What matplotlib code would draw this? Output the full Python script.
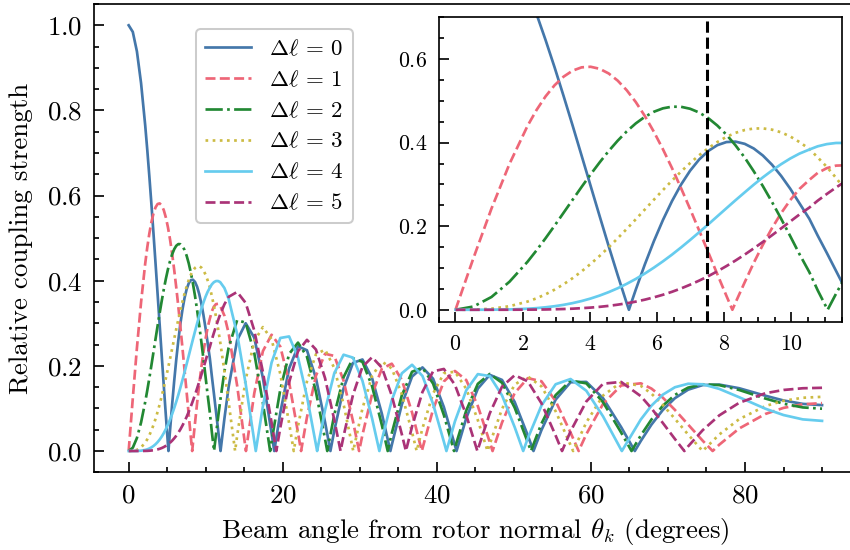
import numpy as np
import matplotlib
matplotlib.use('Agg')
import matplotlib.pyplot as plt
from matplotlib.ticker import MultipleLocator

plt.rcParams['font.family'] = 'serif'
plt.rcParams['font.serif'] = ['cmr10']
plt.rcParams['mathtext.fontset'] = 'cm'
plt.rcParams['axes.formatter.use_mathtext'] = True
plt.rcParams['font.size'] = 8
plt.rcParams['axes.linewidth'] = 0.5

# beam angle samples (degrees); the last row holds extra samples for the zoomed range
theta = np.array([
    0, 0.536, 1.072, 1.608, 2.145, 2.681, 3.218, 3.755, 4.293, 4.830, 5.369, 5.907,
    6.447, 6.986, 7.527, 8.068, 8.613, 9.152, 9.696, 10.241, 10.785, 11.331, 11.879,
    12.427, 12.976,
    14.079, 15.187, 16.301, 17.422, 18.549, 19.684, 20.826, 21.978, 23.139, 24.310,
    25.492, 26.686, 27.893, 29.113, 30.347, 31.598, 32.865, 34.151, 35.457, 36.784,
    38.135, 39.511, 40.915, 42.350, 43.818, 45.323, 46.869, 48.461, 50.105, 51.807,
    53.576, 55.422, 57.359, 59.404, 61.581, 63.923, 66.479,
    67.861, 69.330, 70.906, 72.619, 74.514, 76.669, 79.238, 82.643,
    85.0, 87.5, 90.0,
    2.413, 2.950, 3.487, 4.024, 4.561, 5.099, 5.638, 6.177, 6.716, 7.256, 7.797,
    8.339, 8.881, 9.424, 9.968, 10.537, 11.058, 11.606])

# relative coupling strength for each delta-l
dl0 = [1.0000, 0.9844, 0.9385, 0.8642, 0.7652, 0.6459, 0.5118, 0.3690, 0.2239, 0.0828, 0.0484, 0.1641,
       0.2601, 0.3328, 0.3801, 0.4014, 0.3971, 0.3692, 0.3205, 0.2551, 0.1776, 0.0931, 0.0068,
       0.0760, 0.1507,
       0.2601, 0.3001, 0.2663, 0.1717, 0.0419, 0.0903, 0.1939, 0.2459, 0.2367, 0.1712,
       0.0677, 0.0477, 0.1469, 0.2069, 0.2150, 0.1711, 0.0876, 0.0142, 0.1092, 0.1749,
       0.1964, 0.1699, 0.1031, 0.0134, 0.0772, 0.1466, 0.1789, 0.1670, 0.1151, 0.0366,
       0.0489, 0.1207, 0.1615, 0.1624, 0.1239, 0.0562, 0.0237,
       0.0621, 0.0963, 0.1241, 0.1441, 0.1549, 0.1560, 0.1475, 0.1299,
       0.1187, 0.1107, 0.1078,
       0.7078, 0.5804, 0.4411, 0.2964, 0.1524, 0.0156, 0.1085, 0.2148, 0.2995, 0.3597, 0.3940,
       0.4024, 0.3860, 0.3472, 0.2897, 0.2176, 0.1359, 0.0499]
dl1 = [0.0, 0.1240, 0.2423, 0.3492, 0.4401, 0.5106, 0.5579, 0.5802, 0.5767, 0.5484, 0.4971, 0.4260,
       0.3391, 0.2411, 0.1374, 0.0332, 0.0660, 0.1555, 0.2311, 0.2891, 0.3276, 0.3450, 0.3414,
       0.3179, 0.2767,
       0.1538, 0.0047, 0.1353, 0.2346, 0.2731, 0.2453, 0.1613, 0.0435, 0.0789, 0.1768,
       0.2284, 0.2234, 0.1655, 0.0703, 0.0381, 0.1334, 0.1934, 0.2051, 0.1672, 0.0904,
       0.0058, 0.0977, 0.1634, 0.1880, 0.1666, 0.1057, 0.0209, 0.0668, 0.1363, 0.1711,
       0.1639, 0.1172, 0.0432, 0.0395, 0.1109, 0.1540, 0.1590,
       0.1466, 0.1254, 0.0965, 0.0621, 0.0241, 0.0150, 0.0528, 0.0870,
       0.1013, 0.1098, 0.1125,
       0.4781, 0.5373, 0.5723, 0.5816, 0.5656, 0.5254, 0.4638, 0.3842, 0.2912, 0.1896, 0.0850,
       0.0173, 0.1123, 0.1953, 0.2625, 0.3109, 0.3390, 0.3458]
dl2 = [0.0, 0.0078, 0.0306, 0.0671, 0.1149, 0.1711, 0.2321, 0.2940, 0.3528, 0.4047, 0.4461, 0.4739,
       0.4861, 0.4811, 0.4586, 0.4191, 0.3641, 0.2960, 0.2179, 0.1334, 0.0466, 0.0383, 0.1173,
       0.1866, 0.2429,
       0.3074, 0.3014, 0.2303, 0.1130, 0.0223, 0.1448, 0.2279, 0.2546, 0.2216, 0.1391,
       0.0279, 0.0849, 0.1734, 0.2177, 0.2094, 0.1520, 0.0609, 0.0416, 0.1308, 0.1862,
       0.1957, 0.1584, 0.0844, 0.0075, 0.0952, 0.1578, 0.1810, 0.1603, 0.1018, 0.0203,
       0.0642, 0.1313, 0.1654, 0.1590, 0.1145, 0.0434, 0.0367,
       0.0740, 0.1063, 0.1318, 0.1489, 0.1567, 0.1548, 0.1434, 0.1233,
       0.1111, 0.1024, 0.0994,
       0.1422, 0.2012, 0.2632, 0.3241, 0.3799, 0.4269, 0.4618, 0.4821, 0.4858, 0.4721, 0.4409,
       0.3935, 0.3315, 0.2580, 0.1762, 0.0900, 0.0036, 0.0788]
dl3 = [0.0, 0.0003, 0.0026, 0.0085, 0.0196, 0.0369, 0.0610, 0.0919, 0.1289, 0.1711, 0.2166, 0.2634,
       0.3091, 0.3511, 0.3868, 0.4138, 0.4302, 0.4341, 0.4247, 0.4015, 0.3648, 0.3158, 0.2561,
       0.1881, 0.1148,
       0.0354, 0.1676, 0.2581, 0.2911, 0.2626, 0.1809, 0.0653, 0.0584, 0.1633, 0.2273,
       0.2381, 0.1951, 0.1100, 0.0033, 0.1001, 0.1768, 0.2102, 0.1940, 0.1335, 0.0439,
       0.0532, 0.1349, 0.1827, 0.1863, 0.1461, 0.0725, 0.0163, 0.0989, 0.1561, 0.1750,
       0.1519, 0.0933, 0.0138, 0.0672, 0.1304, 0.1613, 0.1530,
       0.1347, 0.1083, 0.0757, 0.0387, 0.0003, 0.0389, 0.0747, 0.1056,
       0.1180, 0.1251, 0.1273,
       0.0274, 0.0481, 0.0756, 0.1097, 0.1495, 0.1935, 0.2400, 0.2865, 0.3307, 0.3699, 0.4015,
       0.4235, 0.4338, 0.4311, 0.4148, 0.3848, 0.3418, 0.2871]
dl4 = [0.0, 0.0000, 0.0002, 0.0008, 0.0025, 0.0059, 0.0118, 0.0209, 0.0340, 0.0515, 0.0738, 0.1008,
       0.1320, 0.1670, 0.2044, 0.2430, 0.2811, 0.3169, 0.3484, 0.3737, 0.3912, 0.3992, 0.3967,
       0.3829, 0.3576,
       0.2748, 0.1578, 0.0238, 0.1054, 0.2077, 0.2655, 0.2691, 0.2196, 0.1283, 0.0150,
       0.0963, 0.1825, 0.2262, 0.2193, 0.1649, 0.0762, 0.0261, 0.1192, 0.1825, 0.2026,
       0.1763, 0.1107, 0.0218, 0.0696, 0.1425, 0.1806, 0.1760, 0.1307, 0.0561, 0.0297,
       0.1066, 0.1568, 0.1691, 0.1415, 0.0812, 0.0031, 0.0741,
       0.1066, 0.1323, 0.1498, 0.1580, 0.1567, 0.1459, 0.1264, 0.0994,
       0.0845, 0.0743, 0.0708,
       0.0039, 0.0085, 0.0159, 0.0269, 0.0422, 0.0621, 0.0867, 0.1159, 0.1491, 0.1855, 0.2237,
       0.2622, 0.2994, 0.3333, 0.3620, 0.3835, 0.3965, 0.3993]
dl5 = [0.0, 0.0000, 0.0000, 0.0001, 0.0003, 0.0007, 0.0018, 0.0038, 0.0070, 0.0122, 0.0195, 0.0297,
       0.0430, 0.0600, 0.0804, 0.1046, 0.1321, 0.1623, 0.1947, 0.2280, 0.2611, 0.2926, 0.3209,
       0.3446, 0.3621,
       0.3736, 0.3479, 0.2835, 0.1858, 0.0671, 0.0550, 0.1613, 0.2341, 0.2611, 0.2383,
       0.1711, 0.0735, 0.0347, 0.1316, 0.1978, 0.2204, 0.1958, 0.1305, 0.0393, 0.0575,
       0.1387, 0.1871, 0.1927, 0.1554, 0.0844, 0.0036, 0.0885, 0.1512, 0.1780, 0.1637,
       0.1123, 0.0363, 0.0463, 0.1164, 0.1581, 0.1623, 0.1288,
       0.1002, 0.0660, 0.0282, 0.0109, 0.0490, 0.0838, 0.1132, 0.1357,
       0.1434, 0.1474, 0.1485,
       0.0004, 0.0012, 0.0026, 0.0052, 0.0093, 0.0155, 0.0242, 0.0359, 0.0510, 0.0698, 0.0921,
       0.1179, 0.1469, 0.1783, 0.2113, 0.2446, 0.2772, 0.3072]

# angles where each curve touches zero
zeros0 = [5.164, 11.924, 18.897, 26.187, 33.972, 42.556, 52.546, 65.698]
zeros1 = [8.245, 15.222, 22.380, 29.910, 38.055, 47.234, 58.408, 75.801]
zeros2 = [11.081, 18.362, 25.777, 33.624, 42.233, 52.214, 65.272]
zeros3 = [13.814, 21.426, 29.150, 37.385, 46.586, 57.689, 74.500]
zeros4 = [16.499, 24.463, 32.540, 41.245, 51.211, 64.016]
zeros5 = [19.164, 27.502, 35.986, 45.262, 56.254, 72.125]

labels = [r'$\Delta\ell\,=\,%d$' % i for i in range(6)]
colors = ['#4477AA', '#EE6677', '#228833', '#CCBB44', '#66CCEE', '#AA3377']
styles = ['-', '--', '-.', ':', '-', '--']
marker_angle = 7.5

series = [(dl0, zeros0), (dl1, zeros1), (dl2, zeros2),
          (dl3, zeros3), (dl4, zeros4), (dl5, zeros5)]


def with_zeros(vals, zeros):
    t = np.concatenate([theta, zeros])
    v = np.concatenate([vals, np.zeros(len(zeros))])
    order = np.argsort(t)
    return t[order], v[order]


def style_ticks(ax, size):
    ax.tick_params(which='both', direction='in', width=0.5, labelsize=size,
                   top=False, right=False)
    ax.tick_params(which='major', length=3)
    ax.tick_params(which='minor', length=1.5)


W, H, DPI = 850, 550, 243
fig = plt.figure(figsize=(W / DPI, H / DPI), dpi=DPI)

ax = fig.add_axes([94 / W, 1 - 472.3 / H, 762.7 / W, 468.3 / H])
for (vals, zs), lab, col, ls in zip(series, labels, colors, styles):
    t, v = with_zeros(vals, zs)
    ax.plot(t, v, color=col, linestyle=ls, linewidth=0.8, label=lab)
ax.set_xlim(-4.5, 94.5)
ax.set_ylim(-0.05, 1.05)
ax.xaxis.set_major_locator(MultipleLocator(20))
ax.xaxis.set_minor_locator(MultipleLocator(5))
ax.yaxis.set_major_locator(MultipleLocator(0.2))
ax.yaxis.set_minor_locator(MultipleLocator(0.05))
style_ticks(ax, 8)
ax.set_xlabel(r'Beam angle from rotor normal $\theta_k$ (degrees)', labelpad=2.5)
ax.set_ylabel('Relative coupling strength')

leg = ax.legend(loc='upper left', bbox_to_anchor=(0.1337, 0.9466), borderaxespad=0,
                fontsize=6.8, frameon=True, fancybox=True, framealpha=1.0,
                edgecolor='#cccccc', handlelength=2.0, labelspacing=0.45)
leg.get_frame().set_linewidth(0.6)

# zoomed inset
axin = fig.add_axes([438.7 / W, 1 - 322.3 / H, 403.0 / W, 305.0 / H])
for (vals, zs), col, ls in zip(series, colors, styles):
    t, v = with_zeros(vals, zs)
    axin.plot(t, v, color=col, linestyle=ls, linewidth=0.8)
axin.axvline(marker_angle, color='black', linestyle='--', linewidth=0.9)
axin.set_xlim(-0.5, 11.5)
axin.set_ylim(-0.03, 0.70)
axin.xaxis.set_major_locator(MultipleLocator(2))
axin.xaxis.set_minor_locator(MultipleLocator(0.5))
axin.yaxis.set_major_locator(MultipleLocator(0.2))
axin.yaxis.set_minor_locator(MultipleLocator(0.05))
style_ticks(axin, 6.5)

fig.savefig('out.png', dpi=DPI)
